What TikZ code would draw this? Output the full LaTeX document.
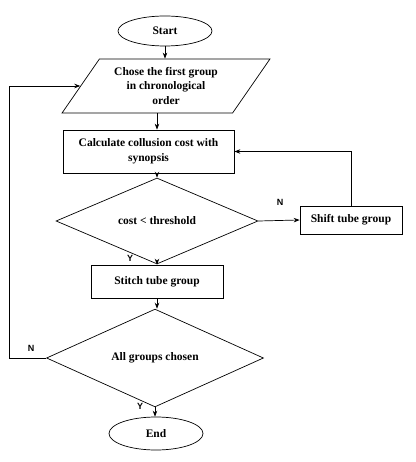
\documentclass[tikz,border=0pt]{standalone}
\usepackage{fontspec}
\setmainfont{Liberation Serif}
\newfontfamily\yn{Liberation Sans}
\usetikzlibrary{arrows.meta,shapes.geometric,positioning}

\begin{document}
\begin{tikzpicture}[x=1pt,y=-1pt,line width=0.7pt,
	box/.style={draw,rectangle,inner sep=0pt,font=\bfseries\fontsize{11.5}{14.5}\selectfont,align=center},
	term/.style={draw,ellipse,inner sep=0pt,font=\bfseries\fontsize{11.5}{14}\selectfont},
	cond/.style={draw,diamond,inner sep=0pt,font=\bfseries\fontsize{11.5}{14}\selectfont},
	lbl/.style={font=\yn\bfseries\fontsize{9}{10}\selectfont},
	arr/.style={-{Stealth[length=6pt,width=4.5pt]}}]
	\useasboundingbox (0,0) rectangle (415,462);
	\node[term,minimum width=94,minimum height=30] (start) at (165,31) {Start};
	\node[draw,trapezium,trapezium left angle=52,trapezium right angle=128,trapezium stretches=true,
		minimum width=208,minimum height=54,inner sep=0pt,font=\bfseries\fontsize{11.5}{14.5}\selectfont,align=center]
		(para) at (166,86) {Chose the first group\\in chronological\\order};
	\node[box,minimum width=171,minimum height=43] (calc) at (148.5,151.5) {Calculate collusion cost with\\synopsis};
	\node[cond,minimum width=202,minimum height=63] (d1) at (157,221) {cost < threshold};
	\node[box,minimum width=102,minimum height=28] (shift) at (351,220) {Shift tube group};
	\node[box,minimum width=132,minimum height=33] (stitch) at (157,281.5) {Stitch tube group};
	\node[cond,minimum width=217,minimum height=79] (d2) at (155,358) {All groups chosen};
	\node[term,minimum width=94,minimum height=33] (stop) at (156,433.5) {End};
	% labels
	\node[lbl] (n1) at (280,202) {N};
	\node[lbl] (y1) at (130,258) {Y};
	\node[lbl] (n2) at (31,348) {N};
	\node[lbl] (y2) at (140,406) {Y};
	% connectors
	\draw[arr] (start.south) -- (start.south |- para.north);
	\draw[arr] (para.south -| d1.north) -- (calc.north -| d1.north);
	\draw[arr] (calc.south -| d1.north) -- (d1.north);
	\draw[arr] (d1.east) -- (shift.west);
	\draw[arr] (shift.north) |- (calc.east);
	\draw[arr] (d1.south) -- (stitch.north);
	\draw[arr] (stitch.south) -- (stitch.south |- d2.north);
	\draw[arr] (d2.west) -- ++(-37,0) |- (para.west);
	\draw[arr] (d2.south) -- (d2.south |- stop.north);
\end{tikzpicture}
\end{document}
